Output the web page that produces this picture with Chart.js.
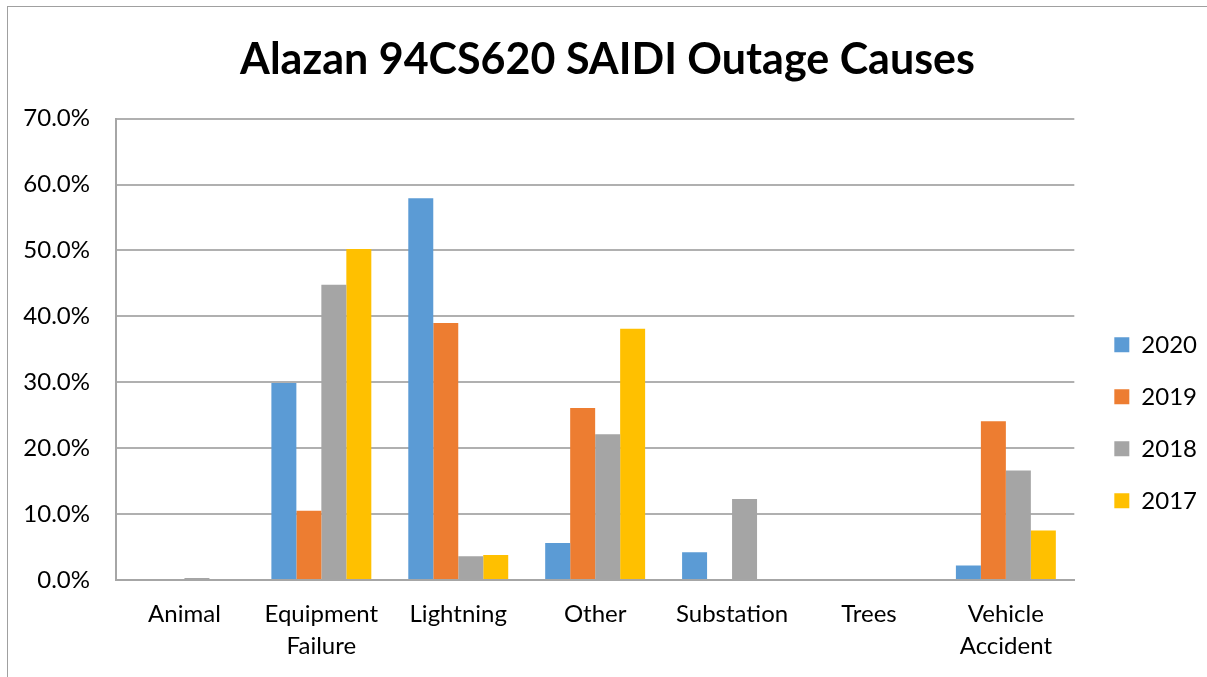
<!DOCTYPE html>
<html>
<head>
<meta charset="utf-8">
<script src="https://cdn.jsdelivr.net/npm/chart.js@4/dist/chart.umd.min.js"></script>
<style>
  html, body { margin: 0; padding: 0; background: #fff; overflow: hidden; }
  #frame { position: absolute; left: 7px; top: 6px; width: 1300px; height: 800px; border: 1px solid #a0a0a0; }
  #wrap { position: absolute; left: 0; top: 0; width: 1207px; height: 677px; }
</style>
</head>
<body>
<div id="frame"></div>
<div id="wrap"><canvas id="outageChart" width="1207" height="677"></canvas></div>
<script>
// Data (percent of SAIDI)
const causes = ["Animal", ["Equipment", "Failure"], "Lightning", "Other", "Substation", "Trees", ["Vehicle", "Accident"]]
const years = ["2020", "2019", "2018", "2017"]
const saidi2020 = [0, 29.9, 57.9, 5.6, 4.2, 0, 2.2]
const saidi2019 = [0, 10.5, 39.0, 26.1, 0, 0, 24.1]
const saidi2018 = [0.3, 44.8, 3.6, 22.1, 12.3, 0, 16.6]
const saidi2017 = [0, 50.2, 3.8, 38.1, 0, 0, 7.5]
const yTicks = [0, 10, 20, 30, 40, 50, 60, 70]

const colors = ["#5B9BD5", "#ED7D31", "#A5A5A5", "#FFC000"]
const series = [saidi2020, saidi2019, saidi2018, saidi2017]
const fontFamily = "Lato, 'Open Sans', sans-serif"

Chart.defaults.font.family = fontFamily
Chart.defaults.color = "#000"

const ctx = document.getElementById("outageChart")
new Chart(ctx, {
  type: "bar",
  data: {
    labels: causes,
    datasets: years.map((y, i) => ({
      label: y,
      data: series[i],
      backgroundColor: colors[i],
      borderWidth: 0,
      categoryPercentage: 0.73,
      barPercentage: 1.0,
    })),
  },
  options: {
    responsive: false,
    animation: false,
    layout: { padding: { left: 8, right: 0, top: 0, bottom: 0 } },
    plugins: {
      title: {
        display: true,
        text: "Alazan 94CS620 SAIDI Outage Causes",
        font: { size: 43, weight: "bold", lineHeight: 1.2 },
        color: "#000",
        padding: { top: 34, bottom: 33 },
      },
      legend: {
        position: "right",
        fullSize: false,
        title: { display: true, text: "", font: { size: 10 }, padding: { top: 135, bottom: 0 } },
        labels: {
          boxWidth: 15,
          boxHeight: 15,
          padding: 28,
          font: { size: 24 },
          color: "#000",
        },
      },
      tooltip: { enabled: false },
    },
    scales: {
      x: {
        grid: { display: false, drawTicks: false },
        border: { display: true, color: "#a6a6a6", width: 2 },
        ticks: { padding: 18, font: { size: 24, lineHeight: 1.33 }, color: "#000", maxRotation: 0 },
        afterFit: (s) => { s.height = 97 },
      },
      y: {
        min: 0,
        max: 70,
        afterBuildTicks: (s) => { s.ticks = yTicks.map((v) => ({ value: v })) },
        grid: { color: "#b0b0b0", lineWidth: 2, drawTicks: false },
        border: { display: true, color: "#a6a6a6", width: 2 },
        ticks: {
          padding: 26,
          font: { size: 24 },
          color: "#000",
          callback: (v) => v.toFixed(1) + "%",
        },
        afterFit: (s) => { s.width = 108 },
      },
      gap: {
        position: "right",
        display: true,
        grid: { display: false, drawTicks: false },
        border: { display: false },
        ticks: { display: false },
        afterFit: (s) => { s.width = 12 },
      },
    },
  },
})
</script>
</body>
</html>
